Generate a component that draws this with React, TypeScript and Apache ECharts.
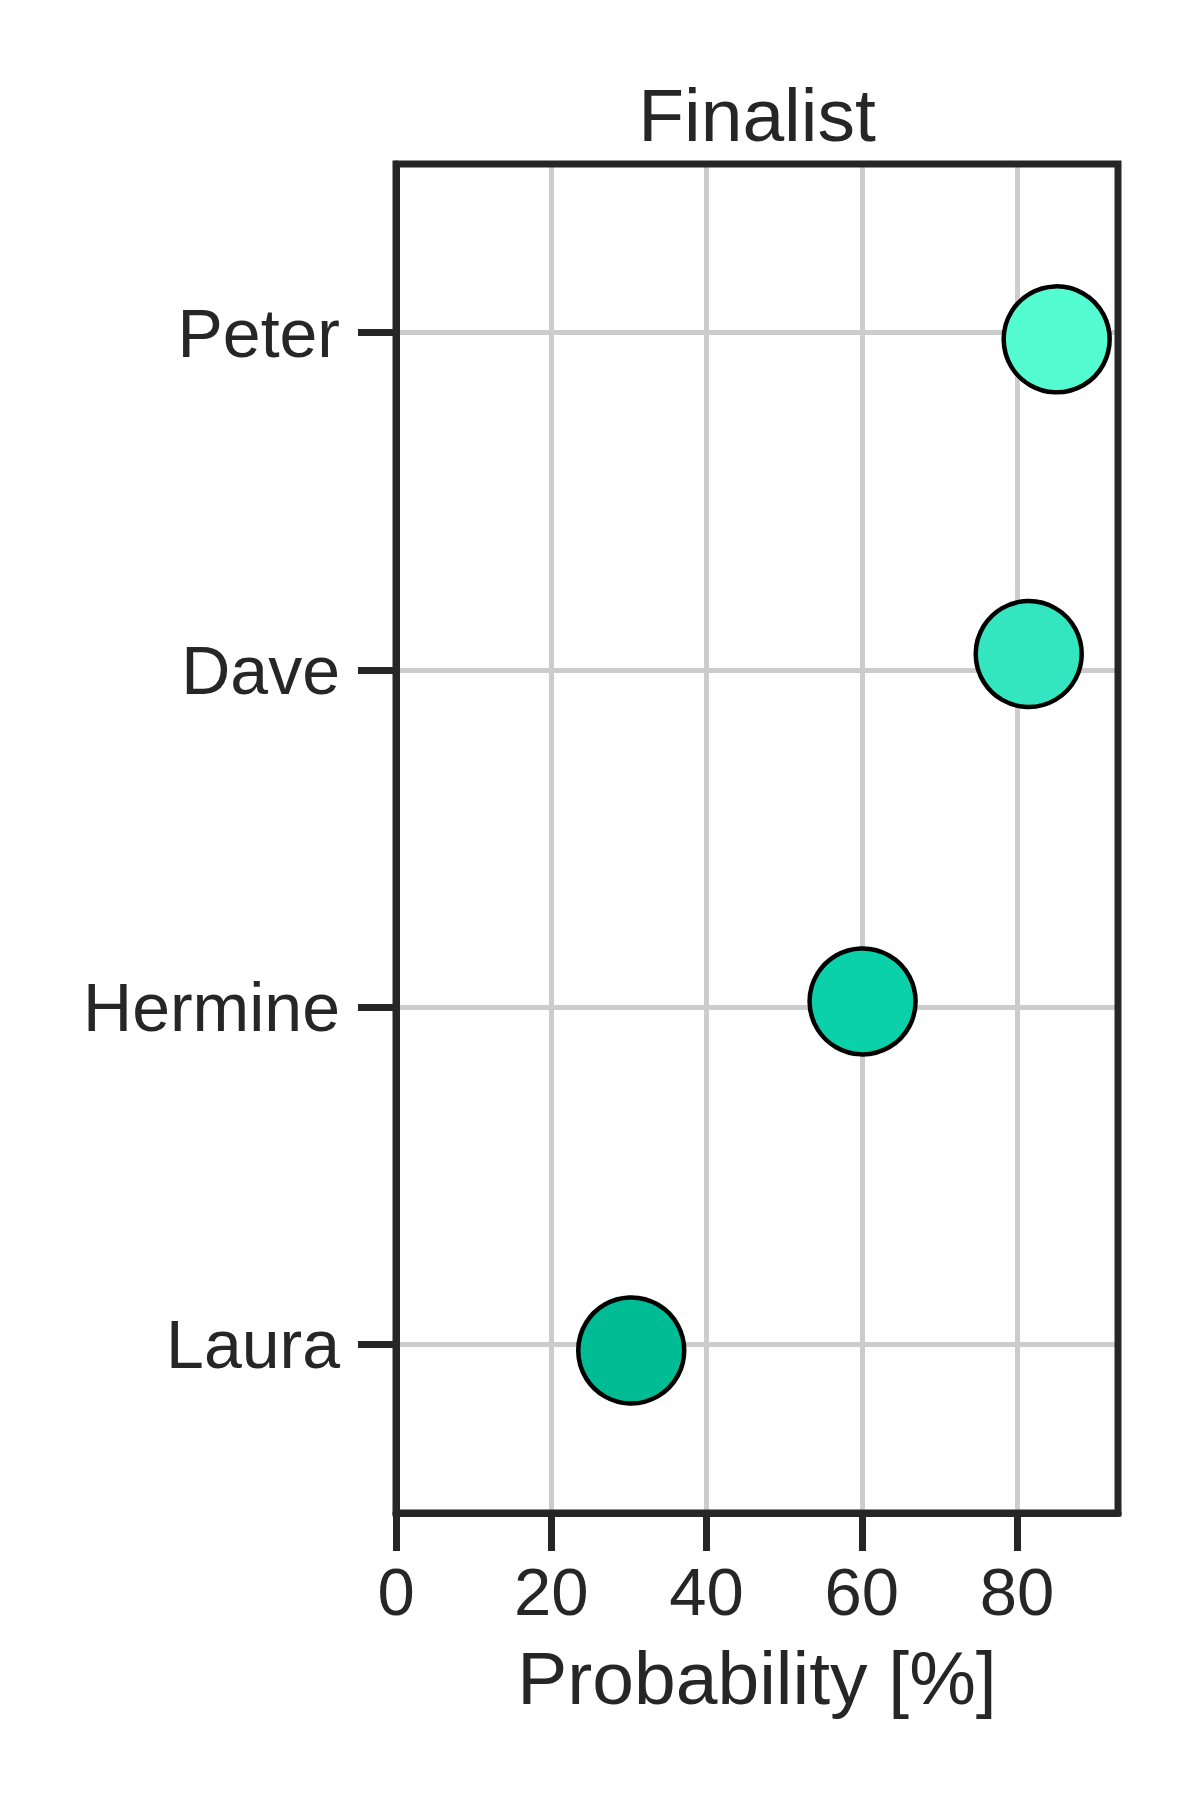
import React, { useEffect, useRef } from "react";
import * as echarts from "echarts";

const categories = ["Peter", "Dave", "Hermine", "Laura"];
const probabilities = [85.1, 81.5, 60.1, 30.3];
const jitter = [0.02, -0.047, -0.017, 0.018];
const pointColors = ["#54FCD2", "#33E6BF", "#0BD1AB", "#00BC95"];
const xTicks = [0, 20, 40, 60, 80];
const titleText = "Finalist";
const xAxisTitle = "Probability [%]";

const FONT = "'Liberation Sans', Arial, sans-serif";
const DARK = "#262626";

export default function App() {
  const ref = useRef<HTMLDivElement>(null);
  useEffect(() => {
    if (!ref.current) return;
    const chart = echarts.init(ref.current, null, { renderer: "svg" });
    const gridLeft = 396;
    const gridRight = 82;
    const gridTop = 164;
    const gridBottom = 287;
    const plotCenter = gridLeft + (1200 - gridLeft - gridRight) / 2;
    chart.setOption({
      animation: false,
      backgroundColor: "#ffffff",
      graphic: [
        {
          type: "text",
          x: plotCenter,
          y: 77,
          style: {
            text: titleText,
            fontSize: 75,
            fontFamily: FONT,
            fill: DARK,
            align: "center",
            verticalAlign: "top",
          },
        },
      ],
      grid: {
        left: gridLeft,
        right: gridRight,
        top: gridTop,
        bottom: gridBottom,
        show: true,
        borderColor: DARK,
        borderWidth: 7,
        backgroundColor: "transparent",
        z: 3,
      },
      xAxis: {
        type: "value",
        min: 0,
        max: 93,
        interval: 20,
        name: xAxisTitle,
        nameLocation: "middle",
        nameGap: 127,
        nameTextStyle: { fontSize: 75, fontFamily: FONT, color: DARK },
        axisLine: { show: true, onZero: false, lineStyle: { color: DARK, width: 7 } },
        axisTick: {
          show: true,
          length: 38,
          lineStyle: { color: DARK, width: 7 },
          customValues: xTicks,
        },
        axisLabel: {
          fontSize: 67,
          fontFamily: FONT,
          color: DARK,
          margin: 45,
          customValues: xTicks,
        },
        splitLine: { show: true, lineStyle: { color: "#cccccc", width: 5 } },
      },
      yAxis: [
        {
          type: "category",
          data: categories,
          inverse: true,
          boundaryGap: true,
          axisLine: { show: true, onZero: false, lineStyle: { color: DARK, width: 7 } },
          axisTick: {
            show: true,
            alignWithLabel: true,
            length: 38,
            lineStyle: { color: DARK, width: 7 },
          },
          axisLabel: {
            fontSize: 68,
            fontFamily: FONT,
            color: DARK,
            margin: 56,
          },
          splitLine: {
            show: true,
            alignWithLabel: true,
            lineStyle: { color: "#cccccc", width: 5 },
          },
        },
        {
          type: "value",
          min: -0.5,
          max: 3.5,
          inverse: true,
          show: false,
          axisLine: { onZero: false },
        },
      ],
      series: [
        {
          type: "scatter",
          yAxisIndex: 1,
          symbol: "circle",
          symbolSize: 106,
          itemStyle: { opacity: 1 },
          data: categories.map((c, i) => ({
            name: c,
            value: [probabilities[i], i + jitter[i]],
            itemStyle: {
              color: pointColors[i],
              borderColor: "#000000",
              borderWidth: 4.5,
              opacity: 1,
            },
          })),
        },
      ],
    });
    return () => chart.dispose();
  }, []);
  return (
    <div
      ref={ref}
      style={{ position: "absolute", left: 0, top: 0, width: 1200, height: 1800 }}
    />
  );
}
